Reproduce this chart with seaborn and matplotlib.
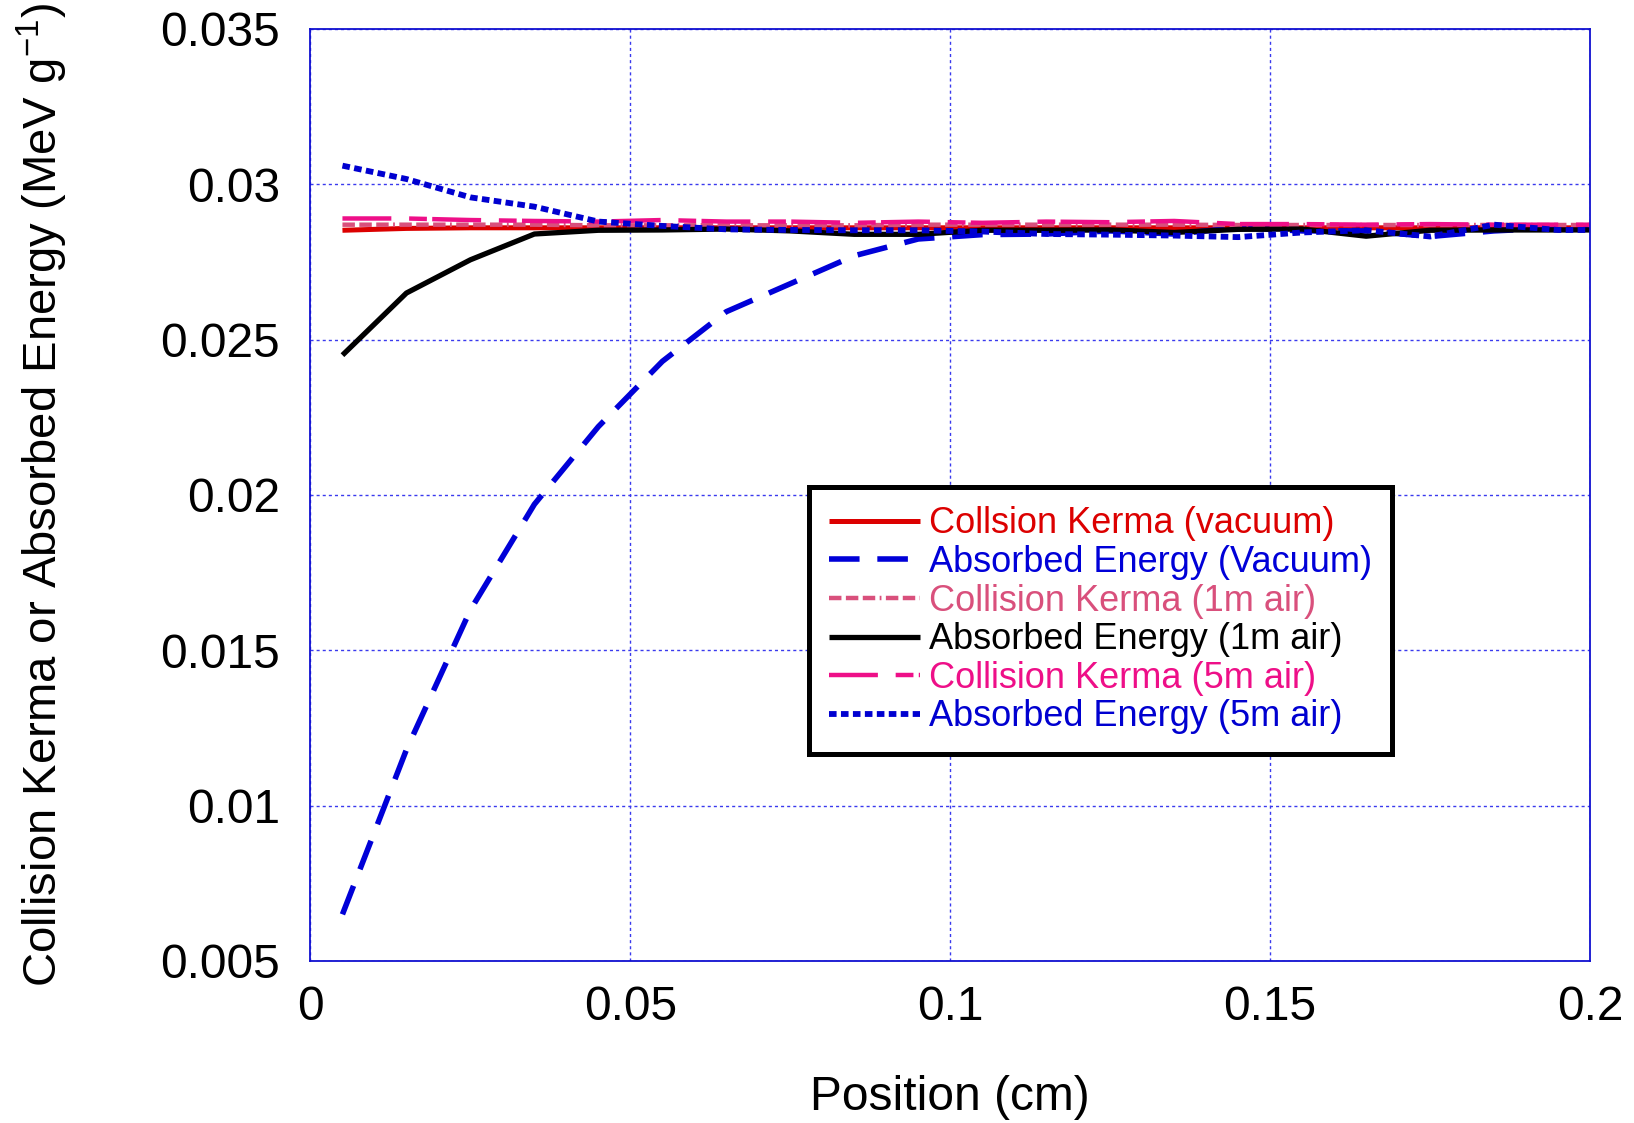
import matplotlib
matplotlib.use("Agg")
import matplotlib.pyplot as plt
import matplotlib.ticker as mticker
import seaborn as sns
import pandas as pd

# ---------------- data ----------------
position = [0.005, 0.015, 0.025, 0.035, 0.045, 0.055, 0.065, 0.075, 0.085, 0.095,
            0.105, 0.115, 0.125, 0.135, 0.145, 0.155, 0.165, 0.175, 0.185, 0.195, 0.205]

kerma_vacuum = [0.02852, 0.02858, 0.0286, 0.0286, 0.0286, 0.0286, 0.0286, 0.0286, 0.0286, 0.0286,
                0.0286, 0.0286, 0.0286, 0.0286, 0.0286, 0.0286, 0.0286, 0.0286, 0.0286, 0.0286, 0.0286]
absorbed_vacuum = [0.0065, 0.0118, 0.0163, 0.0197, 0.0222, 0.0243, 0.0259, 0.0268, 0.0277, 0.02824,
                   0.02838, 0.0284, 0.0285, 0.0284, 0.0286, 0.0285, 0.0285, 0.02832, 0.0285, 0.0286, 0.0286]
kerma_1m = [0.0287, 0.0287, 0.0287, 0.0287, 0.02868, 0.02868, 0.02868, 0.02868, 0.02868, 0.0287,
            0.0287, 0.0287, 0.0287, 0.0287, 0.02869, 0.02869, 0.02869, 0.02869, 0.02869, 0.02869, 0.02869]
absorbed_1m = [0.0245, 0.0265, 0.02757, 0.0284, 0.02852, 0.02853, 0.02856, 0.0285, 0.02839, 0.02839,
               0.02852, 0.02852, 0.02853, 0.02845, 0.02855, 0.02856, 0.02833, 0.02852, 0.02853, 0.02853, 0.02853]
kerma_5m = [0.0289, 0.0289, 0.02885, 0.02882, 0.0288, 0.02885, 0.0288, 0.0288, 0.02876, 0.0288,
            0.02876, 0.0288, 0.02878, 0.02882, 0.02872, 0.02872, 0.0287, 0.02872, 0.0287, 0.0287, 0.0287]
absorbed_5m = [0.0306, 0.03017, 0.02958, 0.02928, 0.0288, 0.02866, 0.02855, 0.02853, 0.02852, 0.02852,
               0.02848, 0.0284, 0.02838, 0.02835, 0.0283, 0.02845, 0.02852, 0.02832, 0.0287, 0.02853, 0.02853]

series_labels = ["Collsion Kerma (vacuum)", "Absorbed Energy (Vacuum)", "Collision Kerma (1m air)",
                 "Absorbed Energy (1m air)", "Collision Kerma (5m air)", "Absorbed Energy (5m air)"]
series_values = [kerma_vacuum, absorbed_vacuum, kerma_1m, absorbed_1m, kerma_5m, absorbed_5m]

x_ticks = [0, 0.05, 0.1, 0.15, 0.2]
y_ticks = [0.005, 0.01, 0.015, 0.02, 0.025, 0.03, 0.035]

# ---------------- style ----------------
sns.set_style("white")
plt.rcParams["font.family"] = ["Liberation Sans", "DejaVu Sans"]
plt.rcParams["mathtext.default"] = "regular"
plt.rcParams["text.color"] = "black"
plt.rcParams["axes.labelcolor"] = "black"

colors = ["#dc0000", "#0000d8", "#d9507c", "#000000", "#ee0f88", "#0000d0"]
linestyles = ["-", (0, (5.5, 3.2)), (0, (2.8, 1.0, 2.8, 1.0, 2.8, 1.0, 0.4, 1.0)),
              "-", (0, (11, 4, 4, 1.2)), (0, (1.3, 0.75))]
widths = [3.6, 4.0, 3.2, 3.8, 3.2, 4.2]

fig = plt.figure(figsize=(16.34, 11.23), dpi=100)
ax = fig.add_axes([0.1900, 0.1443, 0.7831, 0.8299])

rows = []
for lab, vals in zip(series_labels, series_values):
    for xv, yv in zip(position, vals):
        rows.append({"Position": xv, "Value": yv, "Series": lab})
df = pd.DataFrame(rows)

for lab, col, ls, lw in zip(series_labels, colors, linestyles, widths):
    sub = df[df["Series"] == lab]
    sns.lineplot(data=sub, x="Position", y="Value", ax=ax, color=col,
                 linestyle=ls, linewidth=lw, label=lab, legend=False,
                 estimator=None, sort=False)

for ln in ax.get_lines():
    ln.set_dash_capstyle("butt")
    ln.set_solid_capstyle("butt")

ax.set_xlim(0, 0.2)
ax.set_ylim(0.005, 0.035)
ax.set_xticks(x_ticks)
ax.set_yticks(y_ticks)
fmt = mticker.FuncFormatter(lambda v, p: f"{v:g}")
ax.xaxis.set_major_formatter(fmt)
ax.yaxis.set_major_formatter(fmt)

ax.grid(True, color="#3a3aee", linestyle=(0, (2.2, 2.2)), linewidth=1.0)
for s in ax.spines.values():
    s.set_color("#1010d0")
    s.set_linewidth(1.3)
    s.set_visible(True)

ax.tick_params(axis="both", which="major", direction="in", length=13, width=1.0,
               color="#1010d0", labelsize=34.5, labelcolor="black")
ax.tick_params(axis="y", pad=22)
ax.tick_params(axis="x", pad=17)

ax.set_xlabel("Position (cm)", fontsize=34.5, labelpad=33, color="black")
ax.set_ylabel("Collision Kerma or Absorbed Energy (MeV g$^{-1}$)", fontsize=34, color="black")
ax.yaxis.set_label_coords(-0.188, 0.5)

handles = ax.get_lines()[:6]
leg = ax.legend(handles, series_labels, loc="upper left", bbox_to_anchor=(0.390, 0.509),
                fontsize=26, frameon=True, fancybox=False, framealpha=1,
                edgecolor="black", borderpad=0.55, labelspacing=0.1,
                handlelength=2.5, handletextpad=0.25, borderaxespad=0)
leg.get_frame().set_linewidth(3.6)
for txt, col in zip(leg.get_texts(), colors):
    txt.set_color(col)

fig.savefig("out.png", dpi=100, facecolor="white")
